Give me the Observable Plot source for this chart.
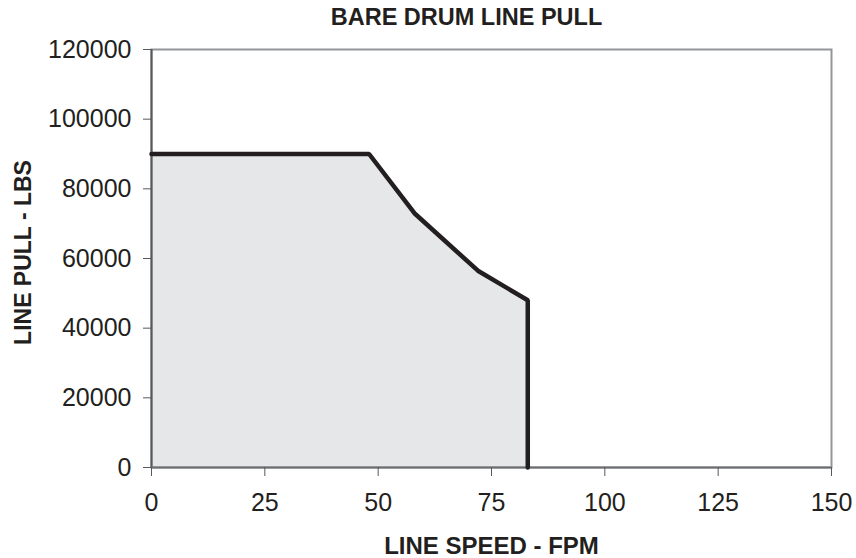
<!DOCTYPE html>
<html>
<head>
<meta charset="utf-8">
<script src="https://cdn.jsdelivr.net/npm/d3@7"></script>
<script src="https://cdn.jsdelivr.net/npm/@observablehq/plot@0.6"></script>
<style>
  html, body { margin: 0; padding: 0; background: #fff; }
  svg { display: block; }
</style>
</head>
<body>
<div id="chart"></div>
<script>
const title = "BARE DRUM LINE PULL";
const xLabel = "LINE SPEED - FPM";
const yLabel = "LINE PULL - LBS";
const speed = [0, 48, 58, 72, 83, 83];
const pull = [90000, 90000, 73000, 56500, 48000, 0];
const xTicks = [0, 25, 50, 75, 100, 125, 150];
const yTicks = [0, 20000, 40000, 60000, 80000, 100000, 120000];

const data = speed.map((s, i) => ({speed: s, pull: pull[i]}));
const ink = "#231f20";

const chart = Plot.plot({
  width: 856,
  height: 558,
  marginLeft: 151,
  marginRight: 25,
  marginTop: 49,
  marginBottom: 91,
  style: {fontFamily: "'Liberation Sans', Arial, sans-serif", fontSize: "25px", color: ink, background: "#fff"},
  x: {domain: [0, 150], ticks: xTicks, label: null},
  y: {domain: [0, 120000], ticks: yTicks, label: null},
  marks: [
    Plot.areaY(data, {x: "speed", y: "pull", fill: "#e6e7e8"}),
    Plot.frame({stroke: "#939598", strokeWidth: 2}),
    Plot.ruleX([0], {stroke: "#58595b", strokeWidth: 2}),
    Plot.ruleY([0], {stroke: "#6d6e71", strokeWidth: 2}),
    Plot.line(data, {x: "speed", y: "pull", stroke: ink, strokeWidth: 4.5, strokeLinejoin: "miter"}),
    Plot.axisX({ticks: xTicks, tickSize: 9, tickPadding: 17, stroke: "#58595b", fill: ink, fontSize: 25, label: null, tickFormat: d => String(d)}),
    Plot.axisY({ticks: yTicks, tickSize: 8, tickPadding: 12, stroke: "#58595b", fill: ink, fontSize: 25, label: null, tickFormat: d => String(d)}),
    Plot.text([title], {frameAnchor: "top", lineAnchor: "middle", textAnchor: "middle", dy: -32, dx: -25, fontWeight: "bold", fontSize: 23.5, fill: ink}),
    Plot.text([xLabel], {frameAnchor: "bottom", lineAnchor: "middle", textAnchor: "middle", dy: 79, fontWeight: "bold", fontSize: 24, fill: ink}),
    Plot.text([yLabel], {frameAnchor: "left", lineAnchor: "middle", textAnchor: "middle", dx: -127.5, dy: -6, rotate: -90, fontWeight: "bold", fontSize: 23, fill: ink})
  ]
});
document.getElementById("chart").appendChild(chart);
</script>
</body>
</html>
